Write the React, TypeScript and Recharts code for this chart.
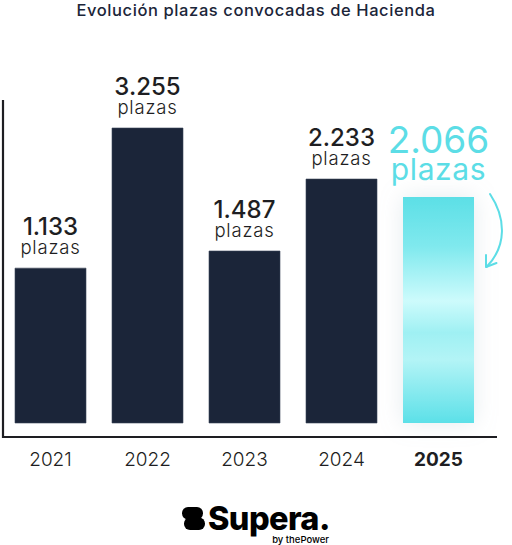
import React from "react";
import { BarChart, Bar, XAxis, YAxis, Cell, LabelList } from "recharts";

const years = ["2021", "2022", "2023", "2024", "2025"];
const plazas = [1133, 3255, 1487, 2233, 2066];
// bar heights as drawn in the graphic (not to scale with plazas), % of tallest bar
const barLevels = [52.5, 100, 58.3, 82.7, 76.6];

const data = years.map((year, i) => ({ year, plazas: plazas[i], level: barLevels[i] }));

const W = 512;
const H = 545;
const M = { top: 128, right: 25, bottom: 82, left: 2 };
const X_AXIS_H = 40;
const PLOT_BOTTOM = H - M.bottom - X_AXIS_H;

const NAVY = "#1b2539";
const CYAN = "#5cdde6";
const FONT = "Inter, 'Noto Sans', sans-serif";

const fmt = (v: number) => String(v).replace(/\B(?=(\d{3})+(?!\d))/g, ".");

const ValueLabel = (props: any) => {
  const { x, y, width, index, value } = props;
  const cx = x + width / 2;
  const last = index === data.length - 1;
  if (last) {
    return (
      <g fontFamily={FONT} fill={CYAN} textAnchor="middle">
        <text x={cx} y={y - 44} fontSize={37} fontWeight={400}>{fmt(value)}</text>
        <text x={cx} y={y - 17} fontSize={30} fontWeight={400} letterSpacing={0.6}>plazas</text>
      </g>
    );
  }
  return (
    <g fontFamily={FONT} fill="#1e1e22" textAnchor="middle">
      <text x={cx} y={y - 33} fontSize={24} fontWeight={500}>{fmt(value)}</text>
      <text x={cx} y={y - 14} fontSize={18.5} fontWeight={300} letterSpacing={0.8}>plazas</text>
    </g>
  );
};

const YearTick = (props: any) => {
  const { x, y, payload, index } = props;
  const last = index === data.length - 1;
  return (
    <text x={x} y={y + 43} textAnchor="middle" fontFamily={FONT} fontSize={19}
      fontWeight={last ? 700 : 300} fill="#1e1e22">
      {payload.value}
    </text>
  );
};

export default function App() {
  return (
    <div style={{ position: "absolute", left: 0, top: 0, width: W, height: H, background: "#fff", overflow: "hidden" }}>
      <div style={{ position: "absolute", top: 0, left: 0, width: W, textAlign: "center", fontFamily: FONT, fontSize: 16.5, fontWeight: 500, color: NAVY, letterSpacing: 0.6 }}>
        Evolución plazas convocadas de Hacienda
      </div>
      <BarChart width={W} height={H} data={data} margin={M} barCategoryGap={0}>
        <defs>
          <linearGradient id="cyanGrad" x1="0" y1="0" x2="0" y2="1">
            <stop offset="0%" stopColor="#5cdfe6" />
            <stop offset="22%" stopColor="#80e9ee" />
            <stop offset="46%" stopColor="#cdfbfc" />
            <stop offset="60%" stopColor="#9ff0f3" />
            <stop offset="72%" stopColor="#b3f4f6" />
            <stop offset="100%" stopColor="#5ce0e8" />
          </linearGradient>
          <filter id="glow" x="-50%" y="-20%" width="200%" height="140%">
            <feDropShadow dx="0" dy="0" stdDeviation="11" floodColor="#a9bccb" floodOpacity="0.3" />
          </filter>
        </defs>
        <YAxis hide domain={[0, 100]} />
        <XAxis dataKey="year" height={X_AXIS_H} axisLine={false} tickLine={false} tickSize={0} tickMargin={0}
          interval={0} tick={<YearTick />} />
        <Bar dataKey="level" barSize={71} isAnimationActive={false}>
          {data.map((d, i) => (
            <Cell key={d.year}
              fill={i === data.length - 1 ? "url(#cyanGrad)" : NAVY}
              stroke={i === data.length - 1 ? "none" : "#3b4458"}
              strokeWidth={0.6}
              filter={i === data.length - 1 ? "url(#glow)" : undefined} />
          ))}
          <LabelList dataKey="plazas" content={<ValueLabel />} />
        </Bar>
      </BarChart>
      <svg width={W} height={H} style={{ position: "absolute", left: 0, top: 0, pointerEvents: "none" }}>
        <polyline points={`3,100 3,${PLOT_BOTTOM + 14} 497,${PLOT_BOTTOM + 14}`} fill="none" stroke="#1e1e22" strokeWidth={2.2} />
        <g fill="none" stroke={CYAN} strokeWidth={2} strokeLinecap="round" strokeLinejoin="round">
          <path d="M490 194 C 506 218, 507 246, 486.5 267" />
          <path d="M486 255 L486 267 L496.5 263" />
        </g>
        <g fill="#000">
          <rect x={182} y={507} width={21} height={12.5} rx={6} />
          <rect x={184} y={517.5} width={21} height={12.5} rx={6} />
          <rect x={188} y={516} width={10} height={4} />
        </g>
        <text x={208} y={530} fontFamily={FONT} fontSize={32.5} fontWeight={800} letterSpacing={-0.6} fill="#000">Supera.</text>
        <text x={329} y={543} textAnchor="end" fontFamily={FONT} fontSize={9.5} fontWeight={500} fill="#000">by thePower</text>
      </svg>
    </div>
  );
}
